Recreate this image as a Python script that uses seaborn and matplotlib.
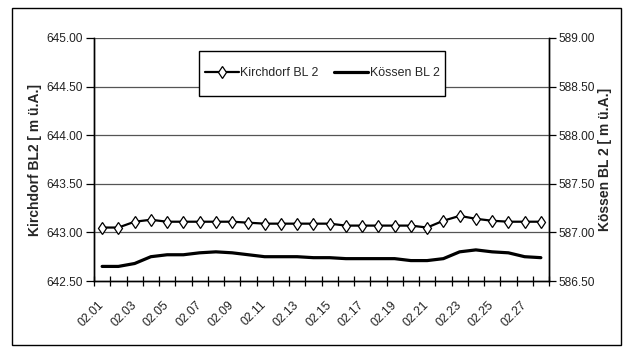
import numpy as np
import pandas as pd
import matplotlib
matplotlib.use("Agg")
import matplotlib.pyplot as plt
import seaborn as sns
from matplotlib.patches import Rectangle
from matplotlib.ticker import FormatStrFormatter

dates = ["02.01", "02.02", "02.03", "02.04", "02.05", "02.06", "02.07",
         "02.08", "02.09", "02.10", "02.11", "02.12", "02.13", "02.14",
         "02.15", "02.16", "02.17", "02.18", "02.19", "02.20", "02.21",
         "02.22", "02.23", "02.24", "02.25", "02.26", "02.27", "02.28"]
kirchdorf = [643.05, 643.05, 643.11, 643.13, 643.11, 643.11, 643.11,
             643.11, 643.11, 643.10, 643.09, 643.09, 643.09, 643.09,
             643.09, 643.07, 643.07, 643.07, 643.07, 643.07, 643.05,
             643.12, 643.17, 643.14, 643.12, 643.11, 643.11, 643.11]
koessen = [586.65, 586.65, 586.68, 586.75, 586.77, 586.77, 586.79,
           586.80, 586.79, 586.77, 586.75, 586.75, 586.75, 586.74,
           586.74, 586.73, 586.73, 586.73, 586.73, 586.71, 586.71,
           586.73, 586.80, 586.82, 586.80, 586.79, 586.75, 586.74]
left_ticks = [642.5, 643.0, 643.5, 644.0, 644.5, 645.0]
right_ticks = [586.5, 587.0, 587.5, 588.0, 588.5, 589.0]
label_left = "Kirchdorf BL2 [ m ü.A.]"
label_right = "Kössen BL 2 [ m ü.A.]"
name_k = "Kirchdorf BL 2"
name_s = "Kössen BL 2"

sns.set_theme(style="white")
plt.rcParams["font.family"] = ["Liberation Sans", "DejaVu Sans"]

df = pd.DataFrame({"date": dates, "kirchdorf": kirchdorf, "koessen": koessen})
df["pos"] = np.arange(len(df))

W, H = 628, 351
fig = plt.figure(figsize=(W / 100, H / 100), dpi=100)
fig.patch.set_facecolor("white")
ax = fig.add_axes([94 / W, 1 - 281 / H, (549 - 94) / W, (281 - 38) / H])
ax2 = ax.twinx()

# grid
for t in left_ticks[1:]:
    ax.axhline(t, color="#555555", lw=0.9, zorder=0)

sns.lineplot(data=df, x="pos", y="kirchdorf", ax=ax, color="black", lw=1.6,
             marker="d", markersize=6, markerfacecolor="white",
             markeredgecolor="black", markeredgewidth=0.9, label=name_k,
             legend=False, zorder=3)
sns.lineplot(data=df, x="pos", y="koessen", ax=ax2, color="black", lw=2.3,
             label=name_s, legend=False, zorder=3)

ax.set_xlim(-0.5, len(dates) - 0.5)
ax.set_ylim(642.5, 645.0)
ax2.set_ylim(586.5, 589.0)
ax.set_yticks(left_ticks)
ax2.set_yticks(right_ticks)
ax.yaxis.set_major_formatter(FormatStrFormatter("%.2f"))
ax2.yaxis.set_major_formatter(FormatStrFormatter("%.2f"))

ax.set_xticks(np.arange(-0.5, len(dates), 1.0))
ax.set_xticklabels([])
ax.set_xticks(np.arange(0, len(dates), 2), minor=True)
ax.set_xticklabels(dates[::2], minor=True)
ax.tick_params(axis="x", which="major", direction="inout", length=7, width=0.9,
               color="black", bottom=True)
ax.tick_params(axis="x", which="minor", length=0, pad=16, labelsize=8.8,
               labelcolor="#222222")
for lab in ax.get_xticklabels(minor=True):
    lab.set_rotation(45)
    lab.set_ha("right")
    lab.set_va("center")
    lab.set_rotation_mode("anchor")

ax.tick_params(axis="y", direction="out", length=6, width=0.9, color="black",
               labelsize=8.6, labelcolor="#222222", left=True, pad=2)
ax2.tick_params(axis="y", direction="out", length=5, width=0.9, color="black",
                labelsize=8.6, labelcolor="#222222", right=True, pad=2)

ax.set_xlabel("")
ax.set_ylabel(label_left, fontsize=10, fontweight="bold", labelpad=3)
ax2.set_ylabel(label_right, fontsize=10, fontweight="bold", rotation=90,
               labelpad=2)

for a in (ax, ax2):
    for s in ("left", "right", "bottom"):
        a.spines[s].set_color("black")
        a.spines[s].set_linewidth(1.0)
    a.spines["top"].set_visible(False)
    a.set_facecolor("none")
ax.set_zorder(ax2.get_zorder() + 1)
ax.patch.set_visible(False)

# legend box
fig.patches.append(Rectangle((199 / W, 1 - 96 / H), (445 - 199) / W,
                             (96 - 51) / H, transform=fig.transFigure,
                             facecolor="white", edgecolor="black", lw=1.0,
                             zorder=5))

h1, l1 = ax.get_legend_handles_labels()
h2, l2 = ax2.get_legend_handles_labels()
leg = fig.legend(h1 + h2, l1 + l2, ncol=2, loc="center",
                 bbox_to_anchor=(322 / W, 1 - 73.5 / H), fontsize=8.9,
                 frameon=False, handlelength=2.8, handletextpad=0.1,
                 columnspacing=1.2, borderpad=0.3, borderaxespad=0)
leg.set_zorder(6)

fig.patches.append(Rectangle((12 / W, 1 - 345 / H), (621 - 12) / W,
                             (345 - 8) / H, transform=fig.transFigure,
                             fill=False, edgecolor="black", lw=1.0))

fig.savefig("out.png", dpi=100)
